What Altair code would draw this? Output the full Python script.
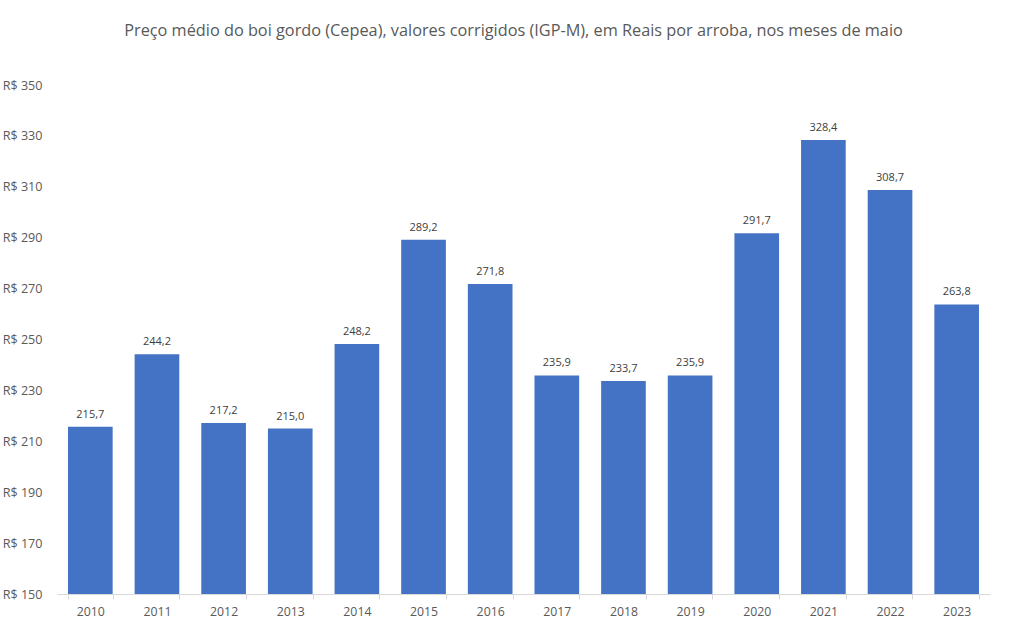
import altair as alt
import pandas as pd

anos = ["2010", "2011", "2012", "2013", "2014", "2015", "2016",
        "2017", "2018", "2019", "2020", "2021", "2022", "2023"]
precos = [215.7, 244.2, 217.2, 215.0, 248.2, 289.2, 271.8,
          235.9, 233.7, 235.9, 291.7, 328.4, 308.7, 263.8]

df = pd.DataFrame({"ano": anos, "preco": precos})

FONT = "Open Sans"
BASE = 150

x = alt.X(
    "ano:N",
    title=None,
    sort=anos,
    scale=alt.Scale(paddingInner=0.33, paddingOuter=0.165),
    axis=alt.Axis(
        labelAngle=0,
        labelFont=FONT,
        labelFontSize=12.3,
        labelColor="#595959",
        labelPadding=6,
        domainColor="#d9d9d9",
        tickColor="#d9d9d9",
        tickSize=5,
        tickBand="extent",
        grid=False,
    ),
)

y = alt.Y(
    "preco:Q",
    title=None,
    scale=alt.Scale(domain=[BASE, 350], nice=False, zero=False),
    axis=alt.Axis(
        values=list(range(BASE, 351, 20)),
        labelExpr="'R$ ' + datum.value",
        labelFont=FONT,
        labelFontSize=12.6,
        labelColor="#595959",
        labelPadding=15,
        domain=False,
        ticks=False,
        grid=False,
    ),
)

barras = alt.Chart(df).mark_bar(color="#4472C4").encode(
    x=x, y=y, y2=alt.datum(BASE)
)

rotulos = (
    alt.Chart(df)
    .transform_calculate(rotulo="replace(format(datum.preco, '.1f'), '.', ',')")
    .mark_text(baseline="bottom", dy=-7, font=FONT, fontSize=11, color="#404040")
    .encode(x=x, y=y, text="rotulo:N")
)

chart = (
    alt.layer(barras, rotulos)
    .properties(
        width=933,
        height=509,
        background="white",
        title=alt.TitleParams(
            "Preço médio do boi gordo (Cepea), valores corrigidos (IGP-M), em Reais por arroba, nos meses de maio",
            font=FONT,
            fontSize=16.3,
            fontWeight="normal",
            color="#595959",
            anchor="middle",
            offset=40,
            dx=-10,
        ),
        autosize=alt.AutoSizeParams(type="none"),
        padding={"left": 57, "top": 85, "right": 22, "bottom": 36},
    )
    .configure_view(strokeWidth=0, stroke="transparent")
)

chart.save("out.html", embed_options={"renderer": "svg", "actions": False})
